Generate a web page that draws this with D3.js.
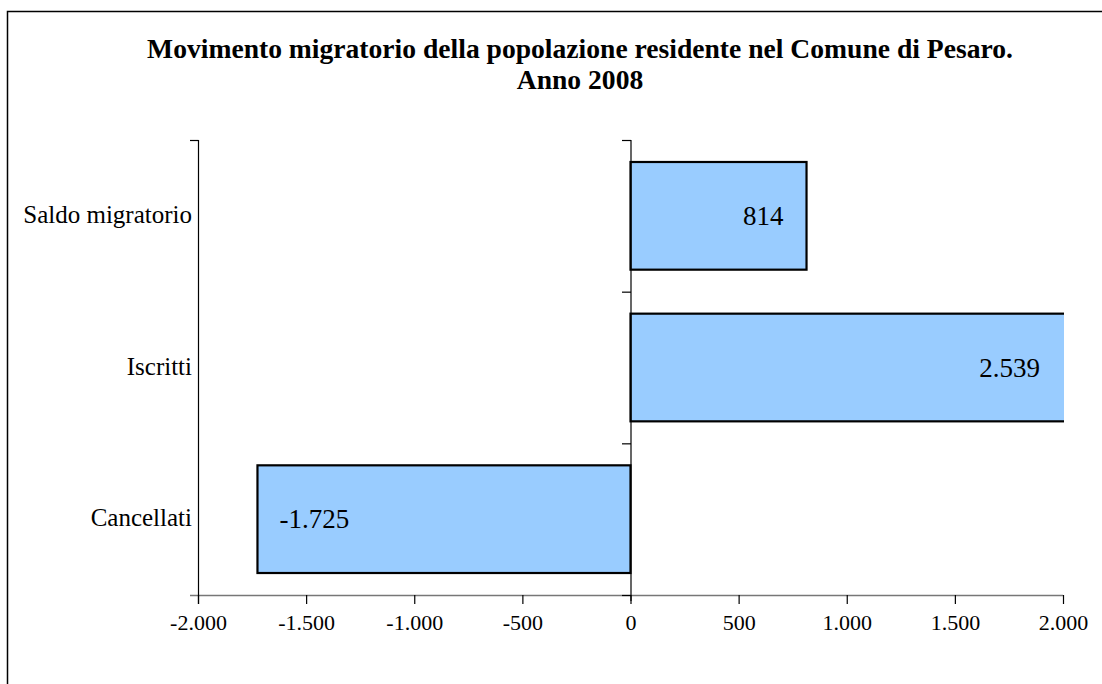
<!DOCTYPE html>
<html>
<head>
<meta charset="utf-8">
<script src="https://cdn.jsdelivr.net/npm/d3@7"></script>
<style>
  html, body { margin: 0; padding: 0; background: #fff; }
  svg { display: block; }
</style>
</head>
<body>
<svg id="chart" width="1102" height="684"></svg>
<script>
const categories = ["Saldo migratorio", "Iscritti", "Cancellati"];
const values = [814, 2539, -1725];
const tickValues = [-2000, -1500, -1000, -500, 0, 500, 1000, 1500, 2000];
const titleLines = ["Movimento migratorio della popolazione residente nel Comune di Pesaro.", "Anno 2008"];

const it = d3.formatLocale({decimal: ",", thousands: ".", grouping: [3], currency: ["", ""], minus: "-"});
const fmt = it.format(",d");

const svg = d3.select("#chart");
const font = "'Liberation Serif', 'Times New Roman', serif";

// outer border
svg.append("rect").attr("x", 7.5).attr("y", 11.5).attr("width", 1110).attr("height", 700)
  .attr("fill", "none").attr("stroke", "#000").attr("stroke-width", 1.5);

// title
svg.append("g").selectAll("text").data(titleLines).join("text")
  .attr("x", 580).attr("y", (d, i) => 58 + i * 31)
  .attr("text-anchor", "middle")
  .attr("font-family", font).attr("font-weight", "bold").attr("font-size", 27.6)
  .text(d => d);

const x = d3.scaleLinear().domain([-2000, 2000]).range([198, 1063]);
const y = d3.scaleBand().domain(categories).range([140, 595]).paddingInner(0.29).paddingOuter(0.145);
const yb = d3.scaleBand().domain(categories).range([140, 595]);

// clip path for bars
svg.append("clipPath").attr("id", "plotclip").append("rect")
  .attr("x", 198).attr("y", 130).attr("width", 865 + 1).attr("height", 480);

// bars
svg.append("g").attr("clip-path", "url(#plotclip)")
  .selectAll("rect").data(categories).join("rect")
  .attr("x", (d, i) => x(Math.min(0, values[i])))
  .attr("width", (d, i) => Math.abs(x(values[i]) - x(0)))
  .attr("y", d => y(d))
  .attr("height", y.bandwidth())
  .attr("fill", "#99CCFF").attr("stroke", "#000").attr("stroke-width", 2.2);

// x axis
const xAxis = d3.axisBottom(x).tickValues(tickValues).tickSize(9).tickSizeOuter(0).tickFormat(d => fmt(d));
const gx = svg.append("g").attr("transform", "translate(0,595)").call(xAxis);
gx.select(".domain").attr("stroke", "#777").attr("stroke-width", 1.5).attr("d", "M190,0.5H1063");
gx.selectAll(".tick line").attr("stroke", "#000").attr("stroke-width", 1.2);
gx.selectAll(".tick text").attr("font-family", font).attr("font-size", 22).attr("fill", "#000").attr("dy", "0.71em").attr("y", 19);

// left line (category axis at left edge)
svg.append("line").attr("x1", 198.5).attr("x2", 198.5).attr("y1", 140).attr("y2", 604)
  .attr("stroke", "#000").attr("stroke-width", 1.2);
svg.append("line").attr("x1", 190).attr("x2", 198.5).attr("y1", 140.5).attr("y2", 140.5)
  .attr("stroke", "#000").attr("stroke-width", 1.2);

// category axis at zero
const yAxis = d3.axisLeft(yb).tickSize(0).tickFormat("");
const gy = svg.append("g").attr("transform", `translate(${x(0) + 0.5},0)`).call(yAxis);
gy.select(".domain").attr("stroke", "#000").attr("stroke-width", 1.2).attr("d", "M0,140V601");
const boundaries = yb.domain().map(d => yb(d)).concat([yb.range()[1]]);
gy.selectAll(".bnd").data(boundaries).join("line").attr("class", "bnd")
  .attr("x1", -9).attr("x2", 0).attr("y1", d => d + 0.5).attr("y2", d => d + 0.5)
  .attr("stroke", "#000").attr("stroke-width", 1.2);

// category labels
svg.append("g").selectAll("text").data(categories).join("text")
  .attr("x", 192).attr("y", d => yb(d) + yb.bandwidth() / 2 + 7)
  .attr("text-anchor", "end")
  .attr("font-family", font).attr("font-size", 25)
  .text(d => d);

// data labels (inside end)
svg.append("g").selectAll("text").data(categories).join("text")
  .attr("x", (d, i) => {
    const v = Math.max(-2000, Math.min(2000, values[i]));
    return values[i] >= 0 ? x(v) - 23 : x(v) + 22;
  })
  .attr("y", d => y(d) + y.bandwidth() / 2 + 9)
  .attr("text-anchor", (d, i) => values[i] >= 0 ? "end" : "start")
  .attr("font-family", font).attr("font-size", 27)
  .text((d, i) => fmt(values[i]));
</script>
</body>
</html>
